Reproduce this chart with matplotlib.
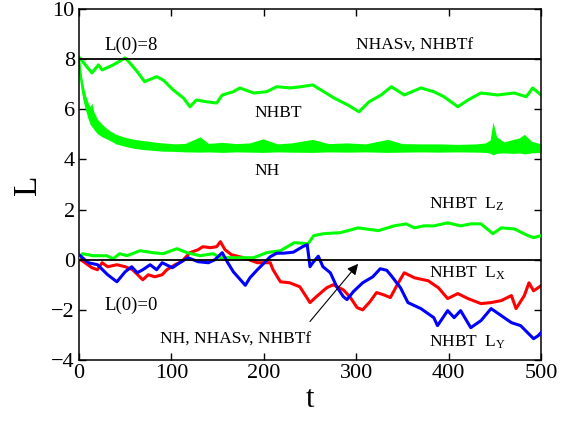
import matplotlib
matplotlib.use("Agg")
import matplotlib.pyplot as plt
import numpy as np

plt.rcParams['font.family'] = ['Liberation Serif', 'DejaVu Serif']
plt.rcParams['mathtext.fontset'] = 'custom'
plt.rcParams['mathtext.rm'] = 'Liberation Serif'
plt.rcParams['mathtext.it'] = 'Liberation Serif:italic'

# ---- data ----
# NHBT (upper green, starting at L=8)
nhbt_t = [0, 14, 21, 25, 37, 50, 55, 63, 71, 84, 91, 102, 113, 120, 127, 138, 149, 155,
          167, 174, 189, 203, 214, 229, 240, 253, 265, 276, 291, 303, 314, 327, 338,
          352, 370, 384, 395, 410, 421, 435, 453, 471, 484, 491, 500]
nhbt_L = [8.08, 7.45, 7.77, 7.57, 7.77, 8.05, 7.85, 7.5, 7.1, 7.3, 7.17, 6.77, 6.45, 6.1,
          6.37, 6.3, 6.25, 6.57, 6.7, 6.85, 6.65, 6.7, 6.9, 6.85, 6.9, 6.97, 6.7, 6.45,
          6.17, 5.9, 6.3, 6.57, 6.9, 6.57, 6.85, 6.7, 6.5, 6.1, 6.37, 6.65, 6.57, 6.65,
          6.5, 6.85, 6.57]

# NH (noisy green band relaxing from 8 to ~4.45): upper / lower envelope
nh_t  = [0, 2, 4, 6, 8, 10, 12, 14, 16, 20, 25, 31, 40, 50, 60, 68, 80, 90, 104, 115,
         131, 140, 155, 170, 185, 199, 215, 230, 253, 270, 290, 310, 334, 350, 370, 390,
         410, 430, 440, 445, 448, 452, 460, 470, 476, 482, 490, 500]
nh_hi = [8.1, 7.5, 7.05, 6.7, 6.45, 6.25, 6.1, 6.25, 5.9, 5.6, 5.4, 5.2, 5.0, 4.88,
         4.8, 4.76, 4.7, 4.66, 4.62, 4.64, 4.9, 4.64, 4.68, 4.63, 4.66, 4.82, 4.62,
         4.66, 4.8, 4.63, 4.66, 4.62, 4.8, 4.63, 4.62, 4.62, 4.6, 4.62, 4.66, 4.78,
         5.5, 4.9, 4.7, 4.8, 4.85, 5.0, 4.72, 4.62]
nh_lo = [7.95, 7.0, 6.45, 6.1, 5.85, 5.6, 5.4, 5.3, 5.2, 5.02, 4.9, 4.8, 4.62, 4.52,
         4.44, 4.4, 4.36, 4.33, 4.32, 4.3, 4.29, 4.3, 4.28, 4.3, 4.29, 4.28, 4.3,
         4.29, 4.28, 4.3, 4.29, 4.3, 4.28, 4.29, 4.3, 4.29, 4.3, 4.29, 4.28, 4.25,
         4.18, 4.24, 4.26, 4.24, 4.26, 4.22, 4.26, 4.28]

# NHBT L_Z (green, lower panel)
lz_t = [0, 4, 15, 30, 37, 44, 52, 66, 80, 91, 106, 117, 131, 145, 153, 167, 189, 203,
        218, 233, 248, 254, 265, 283, 302, 324, 341, 354, 363, 373, 384, 399, 413, 424,
        435, 448, 457, 471, 486, 492, 500]
lz_L = [0.08, 0.24, 0.16, 0.16, 0.04, 0.24, 0.16, 0.36, 0.28, 0.24, 0.44, 0.28, 0.16,
        0.24, 0.08, 0.08, 0.08, 0.28, 0.36, 0.68, 0.64, 0.96, 1.04, 1.08, 1.27, 1.16,
        1.35, 1.43, 1.27, 1.35, 1.35, 1.47, 1.35, 1.43, 1.43, 1.04, 1.27, 1.23, 0.96,
        0.88, 0.96]

# NHBT L_X (red)
lx_t = [0, 14, 20, 25, 31, 41, 50, 58, 69, 75, 82, 90, 95, 104, 111, 120, 129, 134,
        142, 149, 153, 158, 165, 178, 193, 207, 210, 218, 228, 239, 250, 257, 268, 275,
        286, 293, 301, 307, 315, 322, 329, 337, 345, 352, 363, 378, 389, 399, 410,
        421, 435, 446, 457, 468, 473, 482, 487, 492, 500]
lx_L = [0.05, -0.32, -0.4, -0.12, -0.28, -0.2, -0.28, -0.4, -0.8, -0.6, -0.68, -0.6,
        -0.4, -0.2, -0.08, 0.28, 0.4, 0.52, 0.48, 0.52, 0.72, 0.4, 0.2, 0.08, -0.12,
        -0.12, -0.4, -0.88, -0.92, -1.08, -1.71, -1.47, -1.12, -1.0, -1.2, -1.47,
        -1.91, -2.0, -1.67, -1.31, -1.39, -1.51, -0.96, -0.52, -0.72, -0.84, -1.12,
        -1.55, -1.35, -1.55, -1.75, -1.71, -1.63, -1.43, -1.95, -1.43, -0.92, -1.24,
        -1.04]

# NHBT L_Y (blue)
ly_t = [0, 10, 20, 31, 41, 50, 57, 63, 69, 77, 84, 90, 101, 109, 118, 129, 140, 147,
        155, 161, 167, 180, 185, 193, 199, 207, 214, 221, 232, 242, 247, 250, 253, 259,
        264, 272, 279, 286, 290, 297, 307, 318, 326, 333, 338, 348, 356, 370, 384,
        388, 399, 406, 413, 424, 435, 446, 457, 468, 478, 492, 497, 500]
ly_L = [0.2, -0.12, -0.2, -0.6, -0.88, -0.48, -0.28, -0.52, -0.4, -0.2, -0.4, -0.12,
        -0.32, -0.12, 0.08, -0.08, -0.12, 0.0, 0.28, -0.12, -0.48, -1.02, -0.72, -0.4,
        -0.18, 0.12, 0.26, 0.26, 0.3, 0.52, 0.6, -0.28, -0.12, 0.14, -0.28, -0.52,
        -1.08, -1.47, -1.59, -1.27, -0.92, -0.68, -0.36, -0.42, -0.64, -1.12, -1.71,
        -1.95, -2.31, -2.63, -2.03, -2.31, -2.03, -2.71, -2.43, -1.95, -2.23, -2.51,
        -2.63, -3.15, -3.03, -2.91]

ref_levels = [8, 0]
x_ticks = [0, 100, 200, 300, 400, 500]
y_ticks = [-4, -2, 0, 2, 4, 6, 8, 10]

# ---- figure ----
fig = plt.figure(figsize=(5.62, 4.22), dpi=100)
ax = fig.add_axes([0.1406, 0.1469, 0.8220, 0.8318])

green = '#00ff00'
lw = 2.2
ax.fill_between(nh_t, nh_lo, nh_hi, color=green, lw=0, zorder=2)
ax.plot(nh_t, (np.array(nh_hi) + np.array(nh_lo)) / 2, color=green, lw=1.5, zorder=2)
ax.plot(nhbt_t, nhbt_L, color=green, lw=lw, zorder=2)
ax.plot(lx_t, lx_L, color='#ff0000', lw=lw, zorder=2)
ax.plot(lz_t, lz_L, color=green, lw=lw, zorder=3)
ax.plot(ly_t, ly_L, color='#0000ff', lw=lw, zorder=3)
for lv in ref_levels:
    ax.axhline(lv, color='black', lw=1.3, zorder=4)

ax.set_xlim(0, 500)
ax.set_ylim(-4, 10)
ax.set_xticks(x_ticks)
ax.set_yticks(y_ticks)
ax.set_yticklabels([str(v).replace('-', '\u2212') for v in y_ticks])
ax.tick_params(direction='in', top=True, right=True, length=5, width=1,
               labelsize=16, pad=3)
for s in ax.spines.values():
    s.set_linewidth(1.1)
ax.set_xlabel('t', fontsize=22, labelpad=1)
ax.set_ylabel('L', fontsize=24, labelpad=6)

fs = 12.5
ax.text(27, 8.55, 'L(0)=8', fontsize=13.5, va='center', ha='left')
ax.text(300, 8.55, 'NHASv, NHBTf', fontsize=fs, va='center', ha='left')
ax.text(190, 5.85, 'NHBT', fontsize=fs, va='center', ha='left')
ax.text(190, 3.55, 'NH', fontsize=fs, va='center', ha='left')
ax.text(379, 2.2, r'NHBT  L$_{\rm Z}$', fontsize=fs, va='center', ha='left')
ax.text(379, -0.55, r'NHBT  L$_{\rm X}$', fontsize=fs, va='center', ha='left')
ax.text(379, -3.3, r'NHBT  L$_{\rm Y}$', fontsize=fs, va='center', ha='left')
ax.text(27, -1.8, 'L(0)=0', fontsize=13.5, va='center', ha='left')
ax.text(88, -3.2, 'NH, NHASv, NHBTf', fontsize=fs, va='center', ha='left')
ax.annotate('', xy=(304, -0.08), xytext=(248, -2.55),
            arrowprops=dict(arrowstyle='-|>', color='black', lw=0.8,
                            mutation_scale=16), zorder=5)

fig.savefig('out.png', dpi=100)
